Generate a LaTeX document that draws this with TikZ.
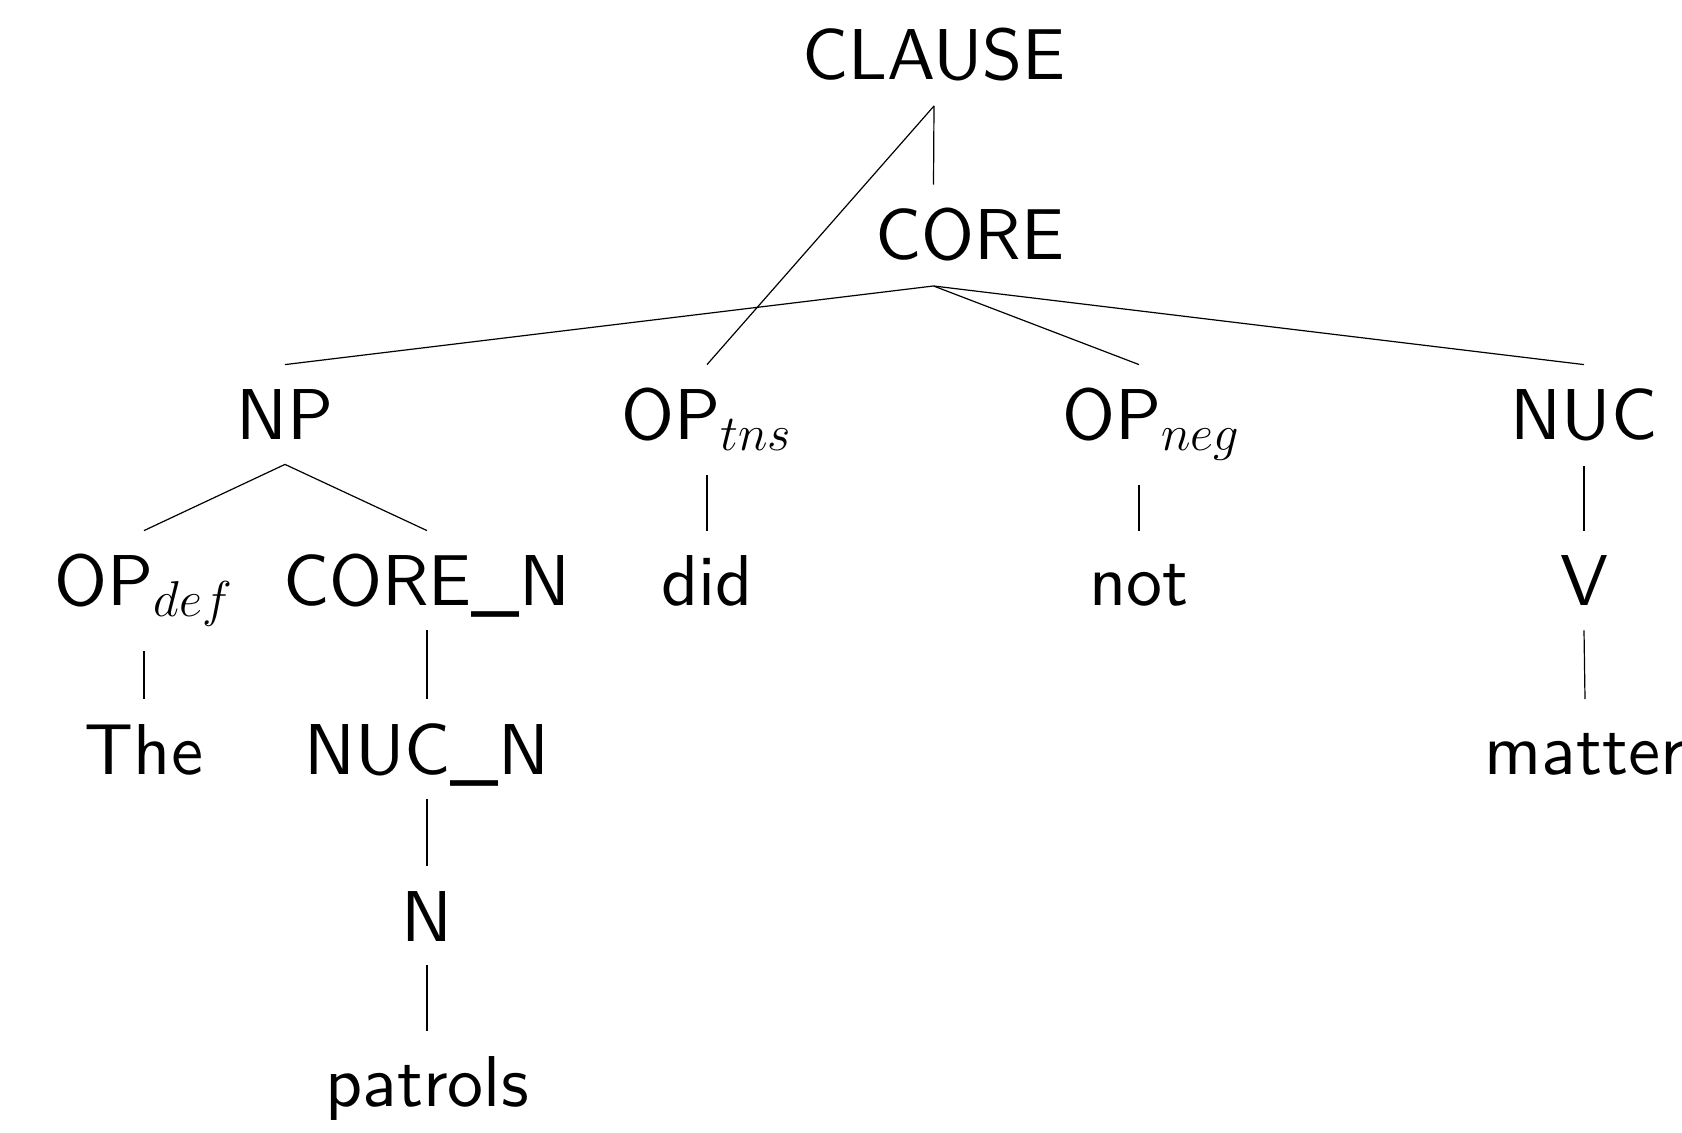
\documentclass[tikz,border=0pt]{standalone}
\usepackage{fontspec}
% the 10pt design of Latin Modern Sans, scaled up
\setsansfont{lmsans10-regular.otf}
% scalable math fonts for the large subscripts
\DeclareFontShape{OML}{cmm}{m}{it}{<-> cmmi12}{}
\DeclareFontShape{OMS}{cmsy}{m}{n}{<-> cmsy10}{}
\begin{document}
\begin{tikzpicture}[x=0.5pt,y=-0.5pt,
  lbl/.style={font=\fontsize{36}{43}\selectfont\sffamily, anchor=base,
              inner xsep=4pt, inner ysep=12pt, text height=25.5pt},
  flat/.style={text depth=0pt},
  edge/.style={line width=0.6pt}]
\useasboundingbox (0,0) rectangle (1682,1133);

% labels, placed on their baselines
\node[lbl] (clause)  at (934,80)    {CLAUSE};
\node[lbl] (core)    at (970,260)   {CORE};
\node[lbl] (np)      at (285,440)   {NP};
\node[lbl] (optns)   at (707,440)   {OP$_{tns}$};
\node[lbl] (opneg)   at (1151,440)  {OP$_{neg}$};
\node[lbl] (nuc)     at (1584,440)  {NUC};
\node[lbl] (opdef)   at (144,606)   {OP$_{def}$};
\node[lbl,flat] (coren) at (427,606) {CORE\_N};
\node[lbl] (did)     at (707,606)   {did};
\node[lbl] (not)     at (1139,606)  {not};
\node[lbl] (v)       at (1584,606)  {V};
\node[lbl] (the)     at (144,774.5) {The};
\node[lbl,flat] (nucn) at (427,774.5) {NUC\_N};
\node[lbl] (matter)  at (1585,774.5) {matter};
\node[lbl] (n)       at (427,941)   {N};
\node[lbl] (patrols) at (427,1106)  {patrols};

% branches
\draw[edge] (clause.south) -- ([xshift=-18.25pt]core.north);
\draw[edge] (clause.south) -- (optns.north);
\draw[edge] ([xshift=-18.25pt]core.south) -- (np.north);
\draw[edge] ([xshift=-18.25pt]core.south) -- ([xshift=-6pt]opneg.north);
\draw[edge] ([xshift=-18.25pt]core.south) -- (nuc.north);
\draw[edge] (np.south) -- (opdef.north);
\draw[edge] (np.south) -- (coren.north);
\draw[edge] (optns.south) -- (did.north);
\draw[edge] ([xshift=-6pt]opneg.south) -- (not.north);
\draw[edge] (nuc.south) -- (v.north);
\draw[edge] (opdef.south) -- (the.north);
\draw[edge] (coren.south) -- (nucn.north);
\draw[edge] (v.south) -- (matter.north);
\draw[edge] (nucn.south) -- (n.north);
\draw[edge] (n.south) -- (patrols.north);
\end{tikzpicture}
\end{document}
